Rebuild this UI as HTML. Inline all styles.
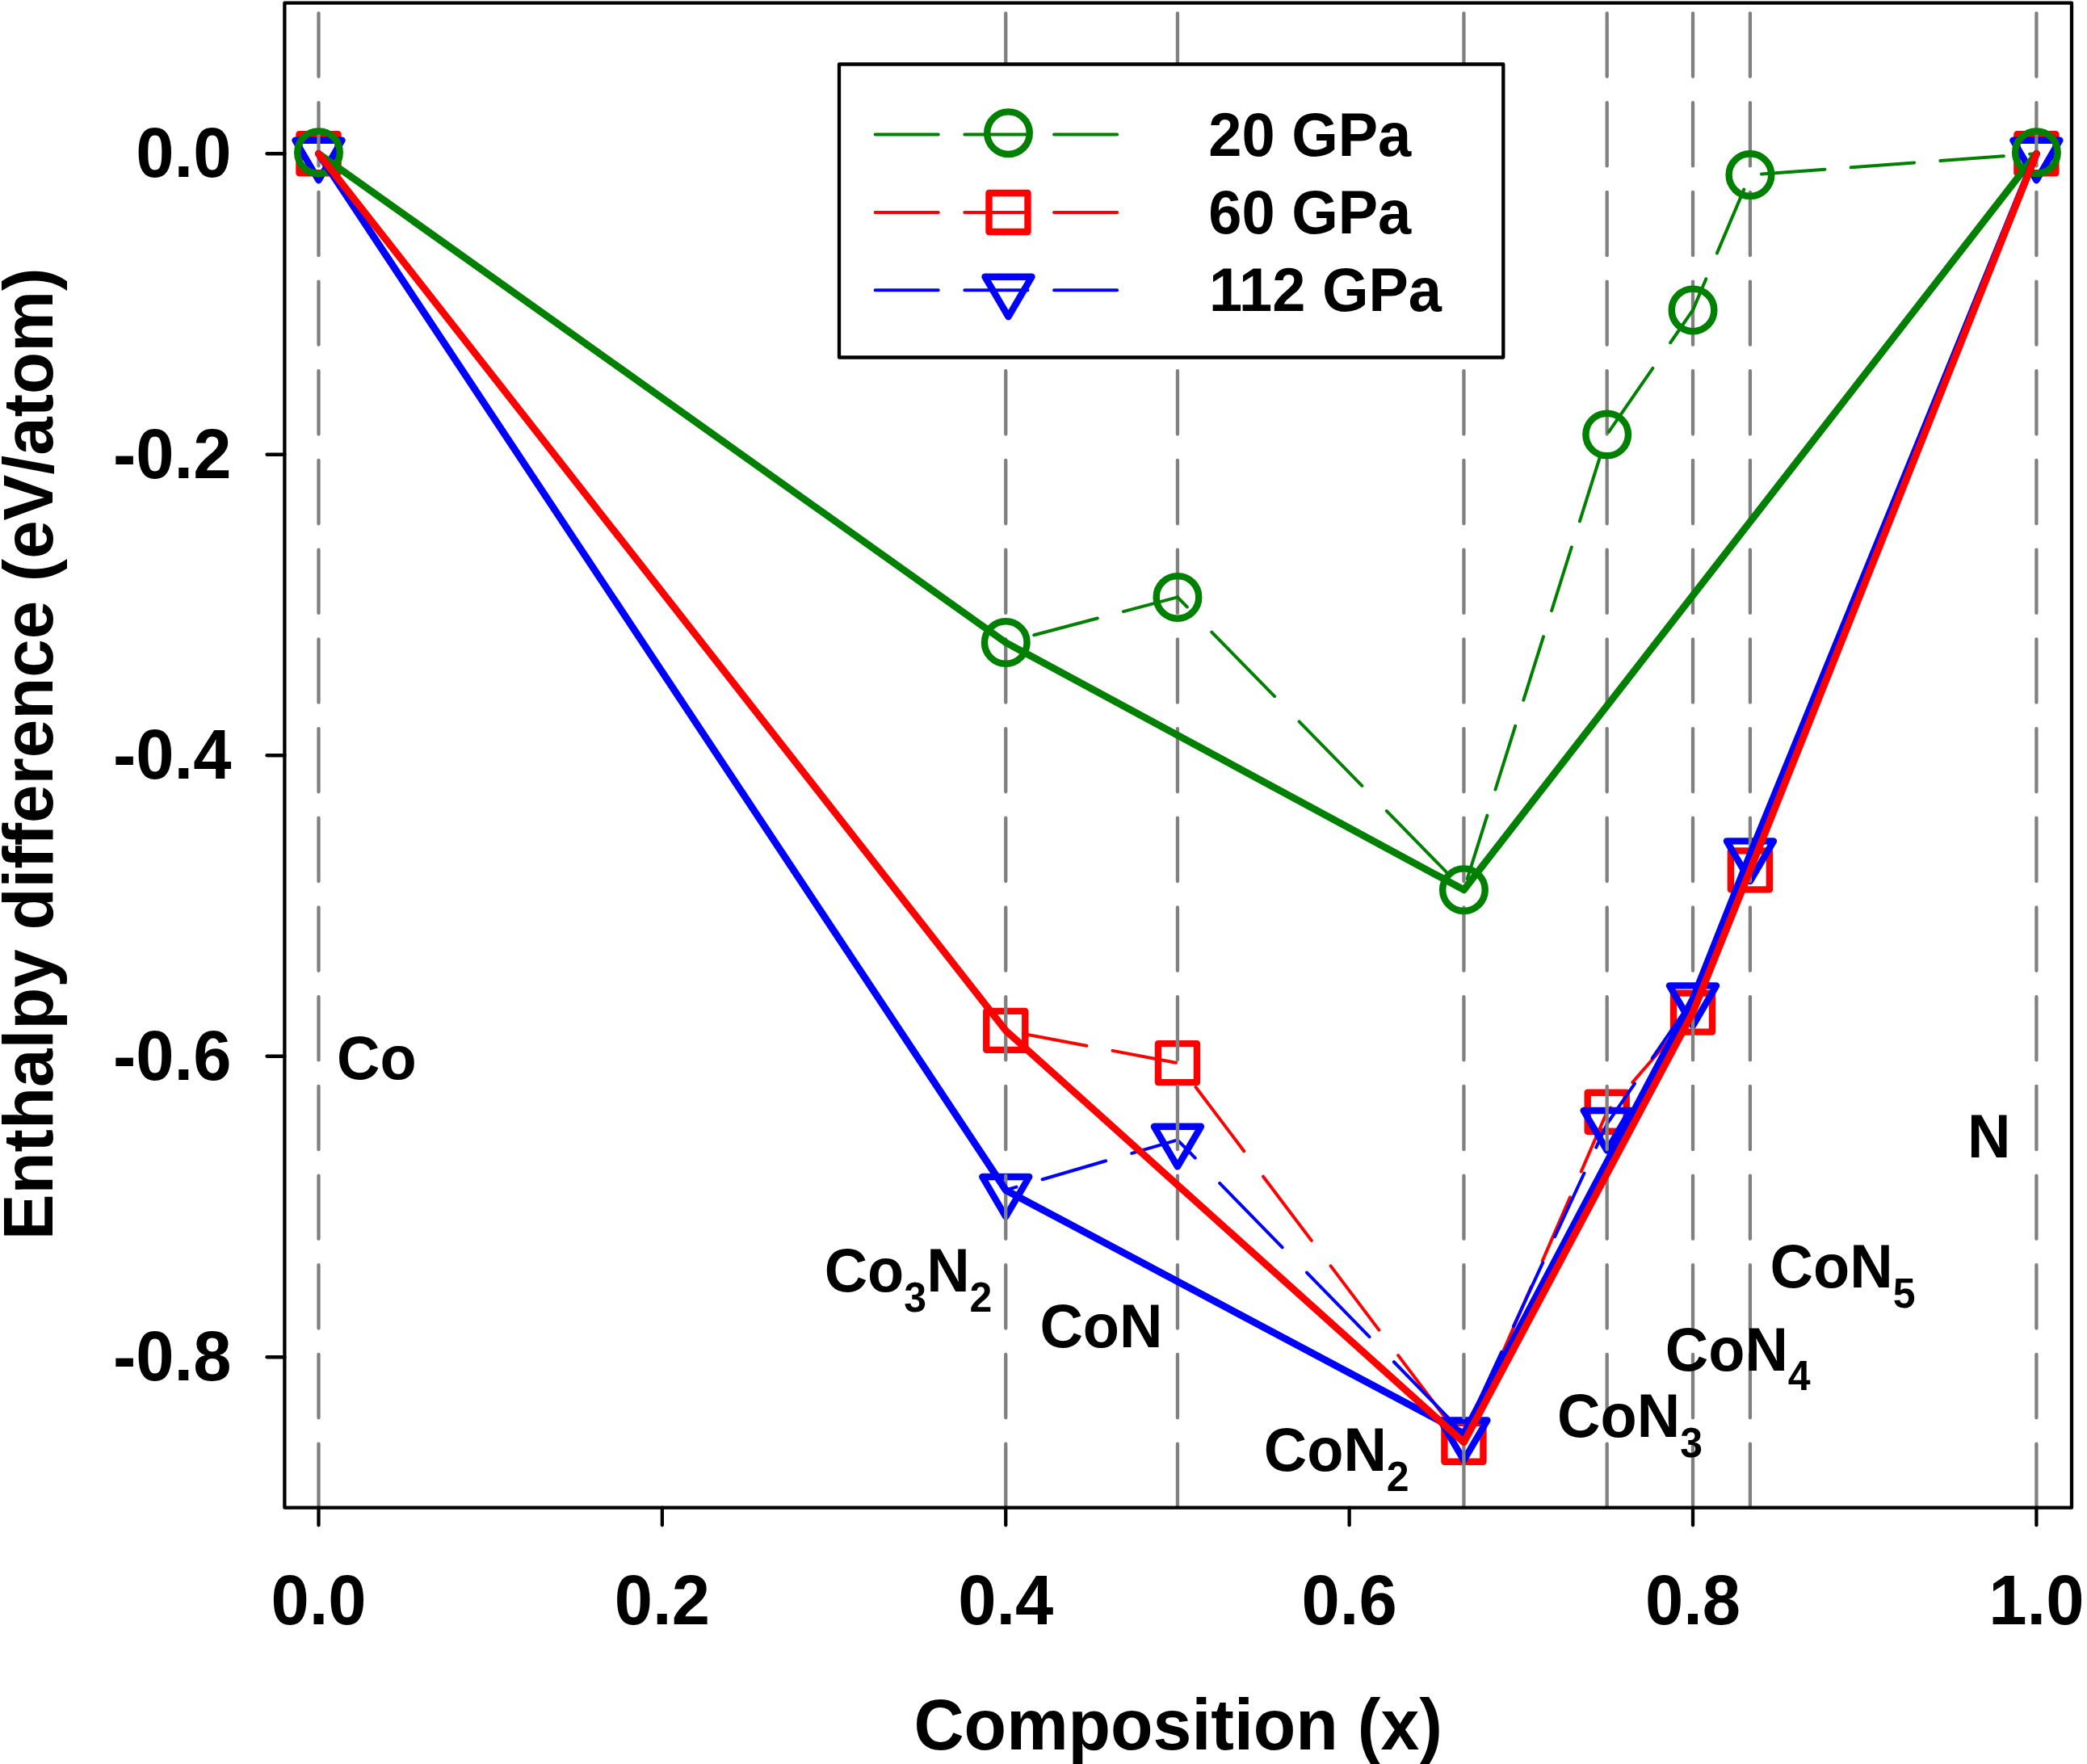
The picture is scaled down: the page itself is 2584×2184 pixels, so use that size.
<!DOCTYPE html>
<html><head><meta charset="utf-8"><style>
html,body{margin:0;padding:0;background:#fff;}
svg{display:block;}
text{font-family:"Liberation Sans",sans-serif;font-weight:bold;fill:#000;}
</style></head><body>
<svg width="2584" height="2184" viewBox="0 0 2584 2184">
<rect x="0" y="0" width="2584" height="2184" fill="#fff"/>
<line x1="394.50" y1="190.25" x2="1245.26" y2="1275.90" stroke="#ff0000" stroke-width="4.0" stroke-dasharray="100.687 39.954" stroke-dashoffset="0.223" stroke-linecap="round"/>
<line x1="1245.26" y1="1275.90" x2="1457.95" y2="1316.10" stroke="#ff0000" stroke-width="4.0" stroke-dasharray="79.859 32.801" stroke-dashoffset="90.713" stroke-linecap="round"/>
<line x1="1457.95" y1="1316.10" x2="1812.43" y2="1785.80" stroke="#ff0000" stroke-width="4.0" stroke-dasharray="99.233 39.455" stroke-dashoffset="101.220" stroke-linecap="round"/>
<line x1="1812.43" y1="1785.80" x2="1989.68" y2="1376.70" stroke="#ff0000" stroke-width="4.0" stroke-dasharray="85.801 34.842" stroke-dashoffset="117.106" stroke-linecap="round"/>
<line x1="1989.68" y1="1376.70" x2="2096.02" y2="1253.60" stroke="#ff0000" stroke-width="4.0" stroke-dasharray="104.890 41.398" stroke-dashoffset="97.891" stroke-linecap="round"/>
<line x1="2096.02" y1="1253.60" x2="2166.92" y2="1077.40" stroke="#ff0000" stroke-width="4.0" stroke-dasharray="84.820 34.505" stroke-dashoffset="92.846" stroke-linecap="round"/>
<line x1="2166.92" y1="1077.40" x2="2521.40" y2="190.25" stroke="#ff0000" stroke-width="4.0" stroke-dasharray="84.735 34.476" stroke-dashoffset="44.079" stroke-linecap="round"/>
<rect x="370.50" y="166.25" width="48.0" height="48.0" fill="none" stroke="#ff0000" stroke-width="8.4" stroke-linejoin="round"/>
<rect x="1221.26" y="1251.90" width="48.0" height="48.0" fill="none" stroke="#ff0000" stroke-width="8.4" stroke-linejoin="round"/>
<rect x="1433.95" y="1292.10" width="48.0" height="48.0" fill="none" stroke="#ff0000" stroke-width="8.4" stroke-linejoin="round"/>
<rect x="1788.43" y="1761.80" width="48.0" height="48.0" fill="none" stroke="#ff0000" stroke-width="8.4" stroke-linejoin="round"/>
<rect x="1965.68" y="1352.70" width="48.0" height="48.0" fill="none" stroke="#ff0000" stroke-width="8.4" stroke-linejoin="round"/>
<rect x="2072.02" y="1229.60" width="48.0" height="48.0" fill="none" stroke="#ff0000" stroke-width="8.4" stroke-linejoin="round"/>
<rect x="2142.92" y="1053.40" width="48.0" height="48.0" fill="none" stroke="#ff0000" stroke-width="8.4" stroke-linejoin="round"/>
<rect x="2497.40" y="166.25" width="48.0" height="48.0" fill="none" stroke="#ff0000" stroke-width="8.4" stroke-linejoin="round"/>
<line x1="394.50" y1="190.25" x2="1245.26" y2="1473.50" stroke="#0000ff" stroke-width="4.0" stroke-dasharray="94.864 37.954" stroke-dashoffset="0.100" stroke-linecap="round"/>
<line x1="1245.26" y1="1473.50" x2="1457.95" y2="1411.30" stroke="#0000ff" stroke-width="4.0" stroke-dasharray="81.851 33.485" stroke-dashoffset="68.119" stroke-linecap="round"/>
<line x1="1457.95" y1="1411.30" x2="1812.43" y2="1775.00" stroke="#0000ff" stroke-width="4.0" stroke-dasharray="111.064 43.518" stroke-dashoffset="79.816" stroke-linecap="round"/>
<line x1="1812.43" y1="1775.00" x2="1989.68" y2="1391.50" stroke="#0000ff" stroke-width="4.0" stroke-dasharray="86.775 35.176" stroke-dashoffset="97.356" stroke-linecap="round"/>
<line x1="1989.68" y1="1391.50" x2="2096.02" y2="1236.90" stroke="#0000ff" stroke-width="4.0" stroke-dasharray="96.012 38.349" stroke-dashoffset="35.492" stroke-linecap="round"/>
<line x1="2096.02" y1="1236.90" x2="2166.92" y2="1057.90" stroke="#0000ff" stroke-width="4.0" stroke-dasharray="84.628 34.439" stroke-dashoffset="78.443" stroke-linecap="round"/>
<line x1="2166.92" y1="1057.90" x2="2521.40" y2="190.25" stroke="#0000ff" stroke-width="4.0" stroke-dasharray="85.012 34.571" stroke-dashoffset="32.989" stroke-linecap="round"/>
<polygon points="365.50,173.75 423.50,173.75 394.50,223.25" fill="none" stroke="#0000ff" stroke-width="8.4" stroke-linejoin="round"/>
<polygon points="1216.26,1457.00 1274.26,1457.00 1245.26,1506.50" fill="none" stroke="#0000ff" stroke-width="8.4" stroke-linejoin="round"/>
<polygon points="1428.95,1394.80 1486.95,1394.80 1457.95,1444.30" fill="none" stroke="#0000ff" stroke-width="8.4" stroke-linejoin="round"/>
<polygon points="1783.43,1758.50 1841.43,1758.50 1812.43,1808.00" fill="none" stroke="#0000ff" stroke-width="8.4" stroke-linejoin="round"/>
<polygon points="1960.68,1375.00 2018.68,1375.00 1989.68,1424.50" fill="none" stroke="#0000ff" stroke-width="8.4" stroke-linejoin="round"/>
<polygon points="2067.02,1220.40 2125.02,1220.40 2096.02,1269.90" fill="none" stroke="#0000ff" stroke-width="8.4" stroke-linejoin="round"/>
<polygon points="2137.92,1041.40 2195.92,1041.40 2166.92,1090.90" fill="none" stroke="#0000ff" stroke-width="8.4" stroke-linejoin="round"/>
<polygon points="2492.40,173.75 2550.40,173.75 2521.40,223.25" fill="none" stroke="#0000ff" stroke-width="8.4" stroke-linejoin="round"/>
<line x1="394.50" y1="14.3" x2="394.50" y2="1867" stroke="#808080" stroke-width="4.3" stroke-dasharray="78.3 32.4" stroke-dashoffset="-2.15" stroke-linecap="round"/>
<line x1="1245.26" y1="14.3" x2="1245.26" y2="1867" stroke="#808080" stroke-width="4.3" stroke-dasharray="78.3 32.4" stroke-dashoffset="-2.15" stroke-linecap="round"/>
<line x1="1457.95" y1="14.3" x2="1457.95" y2="1867" stroke="#808080" stroke-width="4.3" stroke-dasharray="78.3 32.4" stroke-dashoffset="-2.15" stroke-linecap="round"/>
<line x1="1812.43" y1="14.3" x2="1812.43" y2="1867" stroke="#808080" stroke-width="4.3" stroke-dasharray="78.3 32.4" stroke-dashoffset="-2.15" stroke-linecap="round"/>
<line x1="1989.68" y1="14.3" x2="1989.68" y2="1867" stroke="#808080" stroke-width="4.3" stroke-dasharray="78.3 32.4" stroke-dashoffset="-2.15" stroke-linecap="round"/>
<line x1="2096.02" y1="14.3" x2="2096.02" y2="1867" stroke="#808080" stroke-width="4.3" stroke-dasharray="78.3 32.4" stroke-dashoffset="-2.15" stroke-linecap="round"/>
<line x1="2166.92" y1="14.3" x2="2166.92" y2="1867" stroke="#808080" stroke-width="4.3" stroke-dasharray="78.3 32.4" stroke-dashoffset="-2.15" stroke-linecap="round"/>
<line x1="2521.40" y1="14.3" x2="2521.40" y2="1867" stroke="#808080" stroke-width="4.3" stroke-dasharray="78.3 32.4" stroke-dashoffset="-2.15" stroke-linecap="round"/>
<line x1="394.50" y1="190.25" x2="1245.26" y2="795.50" stroke="#008000" stroke-width="4.0" stroke-dasharray="97.125 38.731" stroke-dashoffset="0.148" stroke-linecap="round"/>
<line x1="1245.26" y1="795.50" x2="1457.95" y2="739.40" stroke="#008000" stroke-width="4.0" stroke-dasharray="81.218 33.268" stroke-dashoffset="78.264" stroke-linecap="round"/>
<line x1="1457.95" y1="739.40" x2="1812.43" y2="1101.70" stroke="#008000" stroke-width="4.0" stroke-dasharray="111.281 43.593" stroke-dashoffset="94.394" stroke-linecap="round"/>
<line x1="1812.43" y1="1101.70" x2="1989.68" y2="538.00" stroke="#008000" stroke-width="4.0" stroke-dasharray="82.377 33.666" stroke-dashoffset="101.883" stroke-linecap="round"/>
<line x1="1989.68" y1="538.00" x2="2096.02" y2="383.90" stroke="#008000" stroke-width="4.0" stroke-dasharray="96.117 38.385" stroke-dashoffset="130.800" stroke-linecap="round"/>
<line x1="2096.02" y1="383.90" x2="2166.92" y2="216.60" stroke="#008000" stroke-width="4.0" stroke-dasharray="85.493 34.736" stroke-dashoffset="43.616" stroke-linecap="round"/>
<line x1="2166.92" y1="216.60" x2="2521.40" y2="190.25" stroke="#008000" stroke-width="4.0" stroke-dasharray="78.627 32.378" stroke-dashoffset="96.872" stroke-linecap="round"/>
<circle cx="394.50" cy="188.65" r="26.3" fill="none" stroke="#008000" stroke-width="8.4"/>
<circle cx="1245.26" cy="795.50" r="26.3" fill="none" stroke="#008000" stroke-width="8.4"/>
<circle cx="1457.95" cy="739.40" r="26.3" fill="none" stroke="#008000" stroke-width="8.4"/>
<circle cx="1812.43" cy="1101.70" r="26.3" fill="none" stroke="#008000" stroke-width="8.4"/>
<circle cx="1989.68" cy="538.00" r="26.3" fill="none" stroke="#008000" stroke-width="8.4"/>
<circle cx="2096.02" cy="383.90" r="26.3" fill="none" stroke="#008000" stroke-width="8.4"/>
<circle cx="2166.92" cy="216.60" r="26.3" fill="none" stroke="#008000" stroke-width="8.4"/>
<circle cx="2521.40" cy="188.65" r="26.3" fill="none" stroke="#008000" stroke-width="8.4"/>
<polyline points="394.50,190.25 1245.26,795.50 1812.43,1101.70 2521.40,190.25" fill="none" stroke="#008000" stroke-width="8.8" stroke-linecap="round" stroke-linejoin="round"/>
<polyline points="394.50,190.25 1245.26,1473.50 1812.43,1775.00 2096.02,1236.90 2166.92,1057.90 2521.40,190.25" fill="none" stroke="#0000ff" stroke-width="8.8" stroke-linecap="round" stroke-linejoin="round"/>
<polyline points="394.50,190.25 1245.26,1275.90 1812.43,1785.80 2096.02,1253.60 2166.92,1077.40 2521.40,190.25" fill="none" stroke="#ff0000" stroke-width="8.8" stroke-linecap="round" stroke-linejoin="round"/>
<rect x="352.4" y="3.6" width="2212.60" height="1863.10" fill="none" stroke="#000" stroke-width="4.3" stroke-linejoin="round"/>
<line x1="330.5" y1="190.25" x2="352.4" y2="190.25" stroke="#000" stroke-width="4.3" stroke-linecap="round"/>
<line x1="330.5" y1="562.75" x2="352.4" y2="562.75" stroke="#000" stroke-width="4.3" stroke-linecap="round"/>
<line x1="330.5" y1="935.25" x2="352.4" y2="935.25" stroke="#000" stroke-width="4.3" stroke-linecap="round"/>
<line x1="330.5" y1="1307.75" x2="352.4" y2="1307.75" stroke="#000" stroke-width="4.3" stroke-linecap="round"/>
<line x1="330.5" y1="1680.25" x2="352.4" y2="1680.25" stroke="#000" stroke-width="4.3" stroke-linecap="round"/>
<line x1="394.50" y1="1866.7" x2="394.50" y2="1888.3" stroke="#000" stroke-width="4.3" stroke-linecap="round"/>
<line x1="819.88" y1="1866.7" x2="819.88" y2="1888.3" stroke="#000" stroke-width="4.3" stroke-linecap="round"/>
<line x1="1245.26" y1="1866.7" x2="1245.26" y2="1888.3" stroke="#000" stroke-width="4.3" stroke-linecap="round"/>
<line x1="1670.64" y1="1866.7" x2="1670.64" y2="1888.3" stroke="#000" stroke-width="4.3" stroke-linecap="round"/>
<line x1="2096.02" y1="1866.7" x2="2096.02" y2="1888.3" stroke="#000" stroke-width="4.3" stroke-linecap="round"/>
<line x1="2521.40" y1="1866.7" x2="2521.40" y2="1888.3" stroke="#000" stroke-width="4.3" stroke-linecap="round"/>
<text x="286.5" y="219.25" transform="matrix(1 0 0 1.03 0 -6.578)" font-size="85" text-anchor="end">0.0</text>
<text x="286.5" y="591.75" transform="matrix(1 0 0 1.03 0 -17.753)" font-size="85" text-anchor="end">-0.2</text>
<text x="286.5" y="964.25" transform="matrix(1 0 0 1.03 0 -28.928)" font-size="85" text-anchor="end">-0.4</text>
<text x="286.5" y="1336.75" transform="matrix(1 0 0 1.03 0 -40.103)" font-size="85" text-anchor="end">-0.6</text>
<text x="286.5" y="1709.25" transform="matrix(1 0 0 1.03 0 -51.278)" font-size="85" text-anchor="end">-0.8</text>
<text x="394.50" y="2011" transform="matrix(1 0 0 1.03 0 -60.330)" font-size="85" text-anchor="middle">0.0</text>
<text x="819.88" y="2011" transform="matrix(1 0 0 1.03 0 -60.330)" font-size="85" text-anchor="middle">0.2</text>
<text x="1245.26" y="2011" transform="matrix(1 0 0 1.03 0 -60.330)" font-size="85" text-anchor="middle">0.4</text>
<text x="1670.64" y="2011" transform="matrix(1 0 0 1.03 0 -60.330)" font-size="85" text-anchor="middle">0.6</text>
<text x="2096.02" y="2011" transform="matrix(1 0 0 1.03 0 -60.330)" font-size="85" text-anchor="middle">0.8</text>
<text x="2521.40" y="2011" transform="matrix(1 0 0 1.03 0 -60.330)" font-size="85" text-anchor="middle">1.0</text>
<text x="1458.7" y="2166.5" transform="matrix(1 0 0 1.03 0 -64.995)" font-size="86" text-anchor="middle">Composition (x)</text>
<text transform="translate(65,933.5) rotate(-90) scale(1,1.03)" x="0" y="0" font-size="85.3" text-anchor="middle">Enthalpy difference (eV/atom)</text>
<text x="417.10" y="1335.90" transform="matrix(1 0 0 1.03 0 -40.077)" font-size="74"><tspan dy="0">Co</tspan></text>
<text x="1020.70" y="1599.20" transform="matrix(1 0 0 1.03 0 -47.976)" font-size="74"><tspan dy="0">Co</tspan><tspan font-size="50" dy="24">3</tspan><tspan dy="-24">N</tspan><tspan font-size="50" dy="24">2</tspan></text>
<text x="1287.40" y="1668.10" transform="matrix(1 0 0 1.03 0 -50.043)" font-size="74"><tspan dy="0">CoN</tspan></text>
<text x="1564.80" y="1821.10" transform="matrix(1 0 0 1.03 0 -54.633)" font-size="74"><tspan dy="0">CoN</tspan><tspan font-size="50" dy="24">2</tspan></text>
<text x="1928.10" y="1779.20" transform="matrix(1 0 0 1.03 0 -53.376)" font-size="74"><tspan dy="0">CoN</tspan><tspan font-size="50" dy="24">3</tspan></text>
<text x="2061.80" y="1696.60" transform="matrix(1 0 0 1.03 0 -50.898)" font-size="74"><tspan dy="0">CoN</tspan><tspan font-size="50" dy="24">4</tspan></text>
<text x="2191.60" y="1594.40" transform="matrix(1 0 0 1.03 0 -47.832)" font-size="74"><tspan dy="0">CoN</tspan><tspan font-size="50" dy="24">5</tspan></text>
<text x="2436.10" y="1432.8" transform="matrix(1 0 0 1.03 0 -42.984)" font-size="74">N</text>
<rect x="1039" y="79.5" width="822.3" height="363" fill="#fff" stroke="#000" stroke-width="4.3" stroke-linejoin="round"/>
<line x1="1081.5" y1="166.4" x2="1385.8" y2="166.4" stroke="#008000" stroke-width="4.0" stroke-dasharray="78.1 32.6" stroke-dashoffset="-2.15" stroke-linecap="round"/>
<circle cx="1248.50" cy="164.70" r="26.3" fill="none" stroke="#008000" stroke-width="8.4"/>
<line x1="1081.5" y1="263.0" x2="1385.8" y2="263.0" stroke="#ff0000" stroke-width="4.0" stroke-dasharray="78.1 32.6" stroke-dashoffset="-2.15" stroke-linecap="round"/>
<rect x="1224.50" y="239.00" width="48.0" height="48.0" fill="none" stroke="#ff0000" stroke-width="8.4" stroke-linejoin="round"/>
<line x1="1081.5" y1="359.2" x2="1385.8" y2="359.2" stroke="#0000ff" stroke-width="4.0" stroke-dasharray="78.1 32.6" stroke-dashoffset="-2.15" stroke-linecap="round"/>
<polygon points="1219.50,342.70 1277.50,342.70 1248.50,392.20" fill="none" stroke="#0000ff" stroke-width="8.4" stroke-linejoin="round"/>
<text x="1496.30" y="192.7" transform="matrix(1 0 0 1.03 0 -5.781)" font-size="74">20 GPa</text>
<text x="1496.30" y="288.7" transform="matrix(1 0 0 1.03 0 -8.661)" font-size="74">60 GPa</text>
<text x="1497.00" y="385.5" transform="matrix(1 0 0 1.03 0 -11.565)" font-size="74">112 GPa</text>
</svg></body></html>
